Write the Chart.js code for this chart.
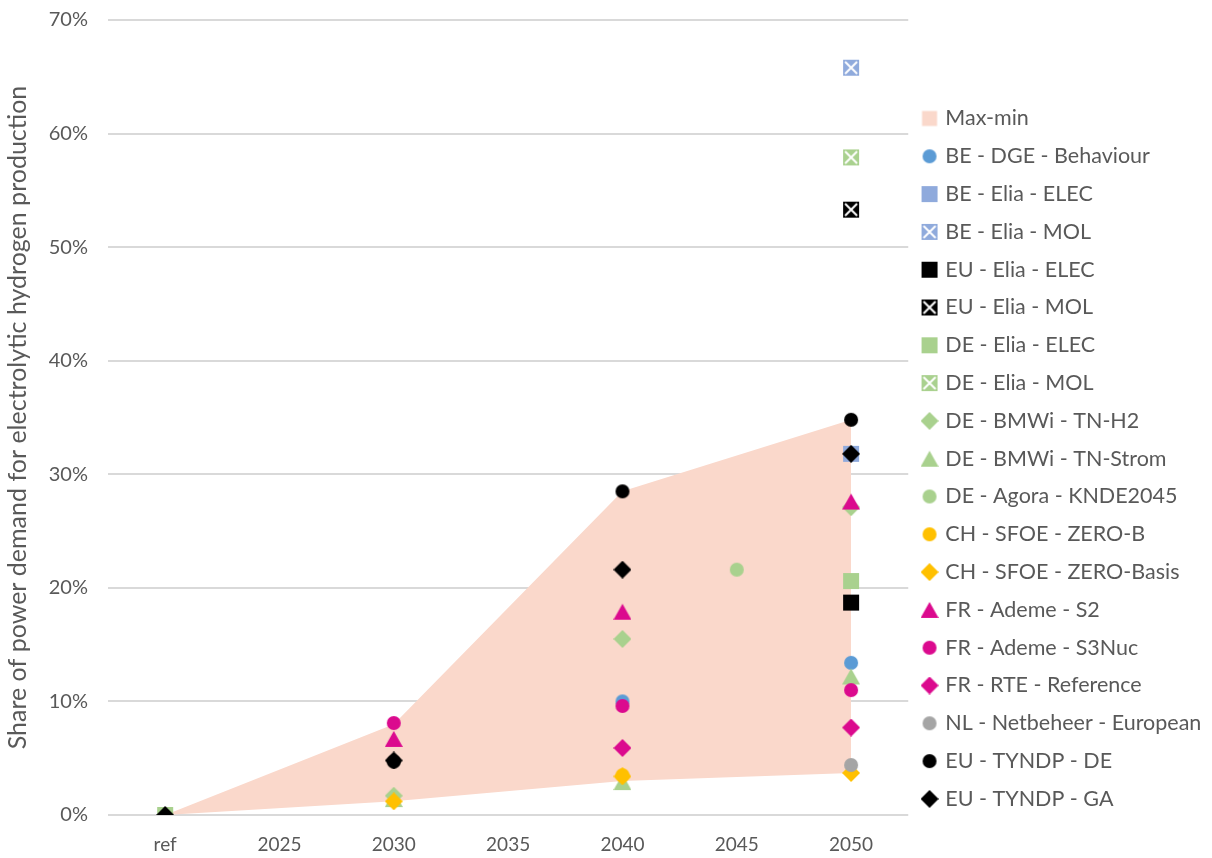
<!DOCTYPE html>
<html>
<head>
<meta charset="utf-8">
<script src="https://cdn.jsdelivr.net/npm/chart.js@4/dist/chart.umd.min.js"></script>
<style>
  html, body { margin: 0; padding: 0; background: #fff; }
  #wrap { width: 1212px; height: 858px; }
</style>
</head>
<body>
<div id="wrap"><canvas id="H2Chart"></canvas></div>
<script>
    // categories and values (share in %)
    var years = ["ref", "2025", "2030", "2035", "2040", "2045", "2050"];
    var yTicks = [0, 10, 20, 30, 40, 50, 60, 70];

    var rangeMax = [0, null, 8.0, null, 28.5, null, 34.8];
    var rangeMin = [0, null, 1.2, null, 3.0, null, 3.7];

    var beDgeBehaviour  = [null, null, null, null, 10.0, null, 13.4];
    var beEliaElec      = [null, null, null, null, null, null, 31.8];
    var beEliaMol       = [null, null, null, null, null, null, 65.8];
    var euEliaElec      = [null, null, null, null, null, null, 18.7];
    var euEliaMol       = [null, null, null, null, null, null, 53.3];
    var deEliaElec      = [0, null, null, null, null, null, 20.6];
    var deEliaMol       = [null, null, null, null, null, null, 57.9];
    var deBmwiH2        = [null, null, 1.7, null, 15.5, null, 27.1];
    var deBmwiStrom     = [null, null, 1.4, null, 2.9, null, 12.2];
    var deAgora         = [null, null, null, null, null, 21.6, null];
    var chSfoeZeroB     = [null, null, null, null, 3.5, null, null];
    var chSfoeZeroBasis = [null, null, 1.2, null, 3.4, null, 3.7];
    var frAdemeS2       = [0, null, 6.7, null, 17.9, null, 27.6];
    var frAdemeS3Nuc    = [null, null, 8.1, null, 9.6, null, 11.0];
    var frRteReference  = [null, null, null, null, 5.9, null, 7.7];
    var nlNetbeheer     = [null, null, null, null, null, null, 4.4];
    var euTyndpDe       = [null, null, 4.7, null, 28.5, null, 34.8];
    var euTyndpGa       = [0, null, 4.8, null, 21.6, null, 31.8];

    var BLUE = '#5B9BD5', LBLUE = '#8FAADC', BLACK = '#000000', GREEN = '#A9D18E',
        ORANGE = '#FFC000', PINK = '#DB0A8E', GREY = '#A5A5A5', AREA = '#FAD8CB';

    // marker pictures so chart and legend look like the Excel markers
    function marker(shape, color) {
        var c = document.createElement('canvas');
        var s = 18;
        c.width = s; c.height = s;
        var ctx = c.getContext('2d');
        var m = s / 2;
        ctx.fillStyle = color;
        if (shape === 'circle') {
            ctx.beginPath(); ctx.arc(m, m, 7, 0, Math.PI * 2); ctx.fill();
        } else if (shape === 'square' || shape === 'xsquare') {
            ctx.fillRect(m - 8, m - 8, 16, 16);
            if (shape === 'xsquare') {
                ctx.strokeStyle = '#fff'; ctx.lineWidth = 2;
                ctx.beginPath();
                ctx.moveTo(m - 6, m - 6); ctx.lineTo(m + 6, m + 6);
                ctx.moveTo(m + 6, m - 6); ctx.lineTo(m - 6, m + 6);
                ctx.stroke();
            }
        } else if (shape === 'box') {
            ctx.fillRect(m - 7.5, m - 7.5, 15, 15);
        } else if (shape === 'diamond') {
            ctx.beginPath();
            ctx.moveTo(m, m - 9); ctx.lineTo(m + 9, m); ctx.lineTo(m, m + 9); ctx.lineTo(m - 9, m);
            ctx.closePath(); ctx.fill();
        } else if (shape === 'triangle') {
            ctx.beginPath();
            ctx.moveTo(m, m - 8); ctx.lineTo(m + 9, m + 8); ctx.lineTo(m - 9, m + 8);
            ctx.closePath(); ctx.fill();
        }
        return c;
    }

    var series = [
        ['BE - DGE - Behaviour', beDgeBehaviour, 'circle', BLUE],
        ['BE - Elia - ELEC', beEliaElec, 'square', LBLUE],
        ['BE - Elia - MOL', beEliaMol, 'xsquare', LBLUE],
        ['EU - Elia - ELEC', euEliaElec, 'square', BLACK],
        ['EU - Elia - MOL', euEliaMol, 'xsquare', BLACK],
        ['DE - Elia - ELEC', deEliaElec, 'square', GREEN],
        ['DE - Elia - MOL', deEliaMol, 'xsquare', GREEN],
        ['DE - BMWi - TN-H2', deBmwiH2, 'diamond', GREEN],
        ['DE - BMWi - TN-Strom', deBmwiStrom, 'triangle', GREEN],
        ['DE - Agora - KNDE2045', deAgora, 'circle', GREEN],
        ['CH - SFOE - ZERO-B', chSfoeZeroB, 'circle', ORANGE],
        ['CH - SFOE - ZERO-Basis', chSfoeZeroBasis, 'diamond', ORANGE],
        ['FR - Ademe - S2', frAdemeS2, 'triangle', PINK],
        ['FR - Ademe - S3Nuc', frAdemeS3Nuc, 'circle', PINK],
        ['FR - RTE - Reference', frRteReference, 'diamond', PINK],
        ['NL - Netbeheer - European', nlNetbeheer, 'circle', GREY],
        ['EU - TYNDP - DE', euTyndpDe, 'circle', BLACK],
        ['EU - TYNDP - GA', euTyndpGa, 'diamond', BLACK]
    ];

    var datasets = [{
        label: 'min',
        data: rangeMin,
        spanGaps: true,
        borderWidth: 0,
        pointRadius: 0,
        fill: false,
        order: 100
    }, {
        label: 'Max-min',
        data: rangeMax,
        spanGaps: true,
        borderWidth: 0,
        borderColor: AREA,
        backgroundColor: AREA,
        pointRadius: 0,
        pointStyle: marker('box', AREA),
        fill: '-1',
        order: 99
    }];

    series.forEach(function (s, i) {
        datasets.push({
            label: s[0],
            data: s[1],
            showLine: false,
            pointStyle: marker(s[2], s[3]),
            backgroundColor: s[3],
            borderColor: s[3],
            pointRadius: 9,
            order: 50 - i
        });
    });

    Chart.defaults.font.family = "Lato, 'Open Sans', sans-serif";
    Chart.defaults.color = '#595959';

    var ctxH2 = document.getElementById("H2Chart");
    var H2Chart = new Chart(ctxH2, {
        type: 'line',
        data: {
            labels: years,
            datasets: datasets
        },
        options: {
            responsive: true,
            maintainAspectRatio: false,
            animation: false,
            layout: { autoPadding: false, padding: { top: 0, right: 1, bottom: 0, left: 0 } },
            plugins: {
                filler: { drawTime: 'beforeDatasetsDraw' },
                tooltip: { enabled: false },
                legend: {
                    position: 'right',
                    title: { display: true, text: '', padding: { top: 45, bottom: 0 } },
                    labels: {
                        usePointStyle: true,
                        boxWidth: 10,
                        padding: 16.3,
                        font: { size: 21.5 },
                        color: '#595959',
                        filter: function (item) { return item.text !== 'min'; },
                        sort: function (a, b) { return a.datasetIndex - b.datasetIndex; }
                    }
                }
            },
            scales: {
                x: {
                    offset: true,
                    afterFit: function (axis) {
                        axis.height = 43;
                    },
                    grid: { display: false, drawTicks: false },
                    border: { display: false },
                    ticks: { font: { size: 19 }, color: '#595959', padding: 18 }
                },
                y: {
                    min: 0,
                    max: 70,
                    afterBuildTicks: function (axis) {
                        axis.ticks = yTicks.map(function (v) { return { value: v }; });
                    },
                    afterFit: function (axis) {
                        axis.width = 108;
                        axis.paddingTop = 20;
                        axis.paddingBottom = 0;
                    },
                    ticks: {
                        font: { size: 20 },
                        color: '#595959',
                        padding: 20,
                        callback: function (v) { return v + '%'; }
                    },
                    grid: { color: '#D9D9D9', lineWidth: 2, drawTicks: false },
                    border: { display: false },
                    title: {
                        display: true,
                        text: 'Share of power demand for electrolytic hydrogen production',
                        font: { size: 25 },
                        color: '#595959',
                        padding: { top: 3, bottom: 10 }
                    }
                }
            }
        }
    });
</script>
</body>
</html>
